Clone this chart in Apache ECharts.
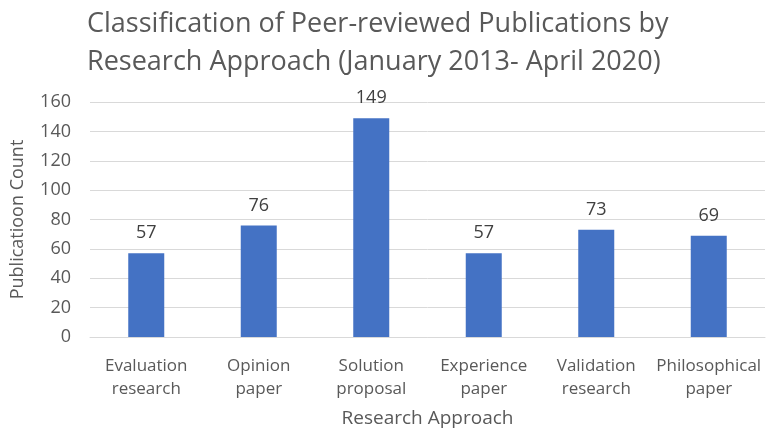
<!DOCTYPE html>
<html><head><meta charset="utf-8">
<script src="https://cdn.jsdelivr.net/npm/echarts@6/dist/echarts.min.js"></script>
<style>html,body{margin:0;padding:0;background:#fff}#c{width:766px;height:433px}</style>
</head><body><div id="c"></div>
<script>
const categories = ["Evaluation\nresearch", "Opinion\npaper", "Solution\nproposal", "Experience\npaper", "Validation\nresearch", "Philosophical\npaper"];
const counts = [57, 76, 149, 57, 73, 69];
const titleText = "Classification of Peer-reviewed Publications by\nResearch Approach (January 2013- April 2020)";
const yTicks = {min: 0, max: 160, interval: 20};

const chart = echarts.init(document.getElementById('c'), null, {renderer: 'canvas'});
const F = "'Open Sans', 'Noto Sans', sans-serif";
chart.setOption({
  animation: false,
  title: {
    text: titleText, left: 87, top: 5, padding: 0,
    textStyle: {fontFamily: F, fontSize: 27, fontWeight: 'normal', color: '#595959', lineHeight: 38}
  },
  grid: {left: 90, right: 1, top: 102, bottom: 94},
  xAxis: {
    type: 'category', data: categories,
    axisTick: {show: false},
    axisLine: {lineStyle: {color: '#d9d9d9', width: 1}},
    axisLabel: {fontFamily: F, fontSize: 17, color: '#595959', margin: 18, lineHeight: 23, interval: 0},
    name: 'Research Approach', nameLocation: 'middle', nameGap: 72,
    nameTextStyle: {fontFamily: F, fontSize: 19, color: '#595959'}
  },
  yAxis: {
    type: 'value', min: yTicks.min, max: yTicks.max, interval: yTicks.interval,
    axisLine: {show: false}, axisTick: {show: false},
    splitLine: {lineStyle: {color: '#d9d9d9', width: 1}},
    axisLabel: {fontFamily: F, fontSize: 18, color: '#595959', margin: 19},
    name: 'Publicatioon Count', nameLocation: 'middle', nameGap: 63,
    nameTextStyle: {fontFamily: F, fontSize: 18, color: '#595959'}
  },
  series: [{
    type: 'bar', data: counts, barWidth: 36,
    itemStyle: {color: '#4472c4'},
    label: {show: true, position: 'top', distance: 11, fontFamily: F, fontSize: 18, color: '#404040'}
  }]
});
</script></body></html>
